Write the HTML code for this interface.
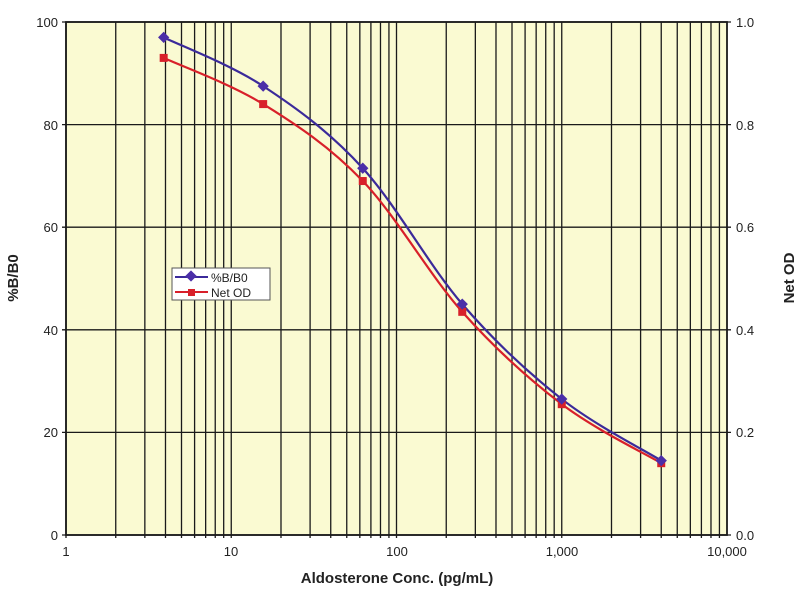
<!DOCTYPE html>
<html><head><meta charset="utf-8"><style>
body{margin:0;background:#fff;width:800px;height:600px;overflow:hidden}
text{font-family:"Liberation Sans",sans-serif;fill:#222}
</style></head><body>
<svg id="s" width="800" height="600" xmlns="http://www.w3.org/2000/svg">
<rect x="66" y="22" width="661" height="513" fill="#fafad2"/>
<g id="g" stroke="#1a1a1a" stroke-width="1.3"></g>
<rect x="66" y="22" width="661" height="513" fill="none" stroke="#1a1a1a" stroke-width="1.8"/>
<g id="c"></g>
<g font-size="13">
<text x="58" y="27" text-anchor="end">100</text>
<text x="58" y="130" text-anchor="end">80</text>
<text x="58" y="232" text-anchor="end">60</text>
<text x="58" y="335" text-anchor="end">40</text>
<text x="58" y="437" text-anchor="end">20</text>
<text x="58" y="540" text-anchor="end">0</text>
<text x="736" y="27">1.0</text>
<text x="736" y="130">0.8</text>
<text x="736" y="232">0.6</text>
<text x="736" y="335">0.4</text>
<text x="736" y="437">0.2</text>
<text x="736" y="540">0.0</text>
<text x="66" y="556" text-anchor="middle">1</text>
<text x="231" y="556" text-anchor="middle">10</text>
<text x="397" y="556" text-anchor="middle">100</text>
<text x="562" y="556" text-anchor="middle">1,000</text>
<text x="727" y="556" text-anchor="middle">10,000</text>
</g>
<text x="397" y="583" text-anchor="middle" font-size="15" font-weight="bold">Aldosterone Conc. (pg/mL)</text>
<text transform="translate(18,278) rotate(-90)" text-anchor="middle" font-size="15" font-weight="bold">%B/B0</text>
<text transform="translate(794,278) rotate(-90)" text-anchor="middle" font-size="15" font-weight="bold">Net OD</text>
<rect x="172" y="268" width="98" height="32" fill="#fff" stroke="#555"/>
<line x1="175" y1="277" x2="208" y2="277" stroke="#3b2a9a" stroke-width="2"/>
<rect x="187" y="272" width="8" height="8" fill="#4b2ea8" transform="rotate(45 191 276)"/>
<text x="211" y="282" font-size="12">%B/B0</text>
<line x1="175" y1="292" x2="208" y2="292" stroke="#d8202a" stroke-width="2"/>
<rect x="188" y="289" width="7" height="7" fill="#d8202a"/>
<text x="211" y="297" font-size="12">Net OD</text>
</svg>
<script>
var g=document.getElementById('g'),c=document.getElementById('c'),ns="http://www.w3.org/2000/svg";
function X(v){return 66+165.25*Math.log10(v)}
function Y(v){return 535-5.13*v}
function el(p,t,a){var e=document.createElementNS(ns,t);for(var k in a)e.setAttribute(k,a[k]);p.appendChild(e);return e}
for(var d=1;d<10000;d*=10)for(var m=1;m<10;m++){var x=X(d*m);el(g,'line',{x1:x,x2:x,y1:22,y2:538})}
for(var v=0;v<=100;v+=20)el(g,'line',{x1:62,x2:731,y1:Y(v),y2:Y(v)});
var xs=[3.9,15.6,62.5,250,1000,4000];
function curve(ys,col){var p=xs.map(function(x,i){return[X(x),Y(ys[i])]});
var d="M"+p[0];for(var i=0;i<p.length-1;i++){var p0=p[i-1]||p[i],p1=p[i],p2=p[i+1],p3=p[i+2]||p2;
d+=" C"+(p1[0]+(p2[0]-p0[0])/6)+","+(p1[1]+(p2[1]-p0[1])/6)+" "+(p2[0]-(p3[0]-p1[0])/6)+","+(p2[1]-(p3[1]-p1[1])/6)+" "+p2;}
el(c,'path',{d:d,fill:'none',stroke:col,'stroke-width':2.2});return p}
var a=curve([97,87.5,71.5,45,26.5,14.5],'#3b2a9a');
var b=curve([93,84,69,43.5,25.5,14],'#d8202a');
b.forEach(function(p){el(c,'rect',{x:p[0]-4,y:p[1]-4,width:8,height:8,fill:'#d8202a'})});
a.forEach(function(p){el(c,'rect',{x:p[0]-4,y:p[1]-4,width:8,height:8,fill:'#4b2ea8',transform:'rotate(45 '+p[0]+' '+p[1]+')'})});
</script>
</body></html>
